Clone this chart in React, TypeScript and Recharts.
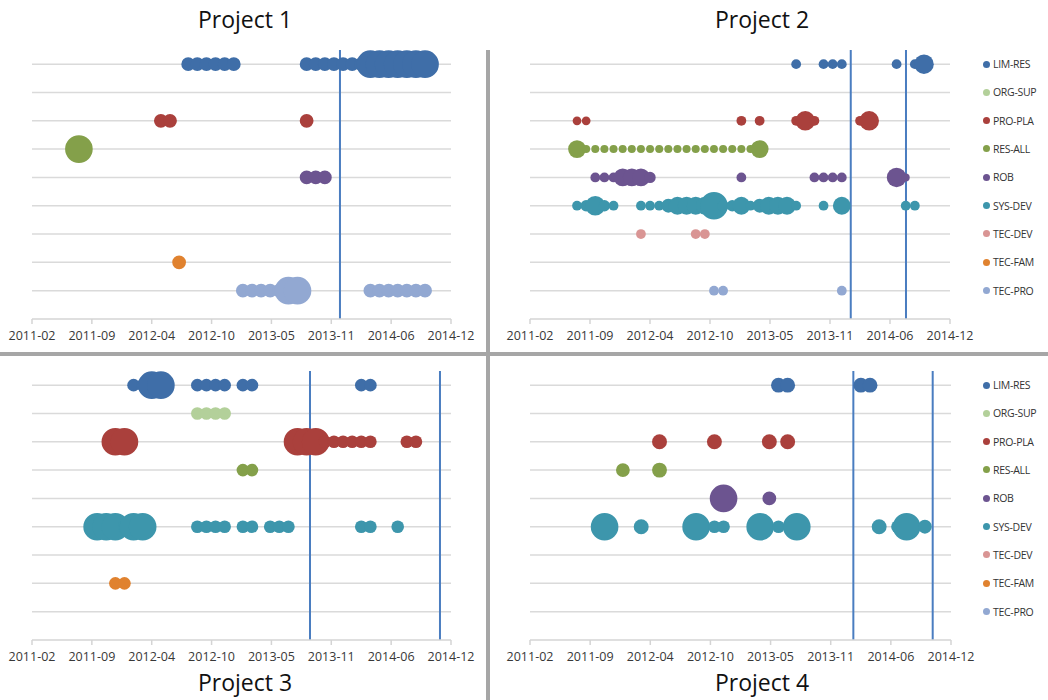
import React from 'react';
import {
  ScatterChart,
  Scatter,
  XAxis,
  YAxis,
  ZAxis,
  CartesianGrid,
  ReferenceLine,
} from 'recharts';

// x values are months counted from 2011-02, z is the bubble weight (area)
type Bubble = [number, number];

const tickLabels = ['2011-02', '2011-09', '2012-04', '2012-10', '2013-05', '2013-11', '2014-06', '2014-12'];
const MONTH_SPAN = 46;
const X0 = -0.15;
const tickValues = tickLabels.map((_, i) => X0 + (i * MONTH_SPAN) / (tickLabels.length - 1));

const seriesNames = ['LIM-RES', 'ORG-SUP', 'PRO-PLA', 'RES-ALL', 'ROB', 'SYS-DEV', 'TEC-DEV', 'TEC-FAM', 'TEC-PRO'];
const seriesColors = ['#3f6ea8', '#b3d09a', '#aa403c', '#84a04a', '#6c5490', '#3d96ac', '#d99594', '#e0822f', '#92a8d2'];

const project1: Record<string, Bubble[]> = {
  'LIM-RES': [
    [17, 3], [18, 3], [19, 3], [20, 3], [21, 3], [22, 3],
    [30, 3], [31, 3], [32, 3], [33, 3], [34, 3], [35, 3], [36, 3],
    [37, 12], [38, 12], [39, 12], [40, 12], [41, 12], [42, 12], [43, 12],
  ],
  'PRO-PLA': [[14, 3], [15, 3], [30, 3]],
  'RES-ALL': [[5, 12]],
  ROB: [[30, 3], [31, 3], [32, 3]],
  'TEC-FAM': [[16, 3]],
  'TEC-PRO': [
    [23, 3], [24, 3], [25, 3], [26, 3], [27, 3], [28, 12], [29, 12],
    [37, 3], [38, 3], [39, 3], [40, 3], [41, 3], [42, 3], [43, 3],
  ],
};

const project2: Record<string, Bubble[]> = {
  'LIM-RES': [[29, 1.5], [32, 1.5], [33, 1.5], [34, 1.5], [40, 1.5], [42, 1.5], [43, 6]],
  'PRO-PLA': [[5, 1.2], [6, 1.2], [23, 1.5], [25, 1.5], [29, 1.5], [30, 6], [31, 1.5], [36, 1.5], [37, 6]],
  'RES-ALL': [
    [5, 5], [6, 1], [7, 1], [8, 1], [9, 1], [10, 1], [11, 1], [12, 1], [13, 1], [14, 1], [15, 1],
    [16, 1], [17, 1], [18, 1], [19, 1], [20, 1], [21, 1], [22, 1], [23, 1], [24, 1], [25, 5],
  ],
  ROB: [
    [7, 1.5], [8, 1.5], [9, 1.5], [10, 5], [11, 5], [12, 5], [13, 2], [23, 1.5],
    [31, 1.5], [32, 1.5], [33, 1.5], [34, 1.5], [40, 6], [41, 1],
  ],
  'SYS-DEV': [
    [5, 1.5], [6, 2], [7, 6], [8, 2], [9, 1.5], [12, 1.5], [13, 1.5], [14, 1.5], [15, 3],
    [16, 5], [17, 5], [18, 5], [19, 5], [20, 12], [21, 2], [22, 2], [23, 5], [24, 1.5],
    [25, 3], [26, 5], [27, 5], [28, 5], [29, 1.5], [32, 1.5], [34, 5], [41, 1.5], [42, 1.5],
  ],
  'TEC-DEV': [[12, 1.5], [18, 1.5], [19, 1.5]],
  'TEC-PRO': [[20, 1.5], [21, 1.5], [34, 1.5]],
};

const project3: Record<string, Bubble[]> = {
  'LIM-RES': [
    [11, 2.5], [12, 2.5], [13, 12], [14, 12], [18, 2.5], [19, 2.5], [20, 2.5], [21, 2.5],
    [23, 2.5], [24, 2.5], [36, 2.5], [37, 2.5],
  ],
  'ORG-SUP': [[18, 2.5], [19, 2.5], [20, 2.5], [21, 2.5]],
  'PRO-PLA': [
    [9, 12], [10, 12], [29, 12], [30, 12], [31, 12], [32, 2.5], [33, 2.5], [34, 2.5],
    [35, 2.5], [36, 2.5], [37, 2.5], [41, 2.5], [42, 2.5],
  ],
  'RES-ALL': [[23, 2.5], [24, 2.5]],
  'SYS-DEV': [
    [7, 12], [8, 12], [9, 12], [10, 2.5], [11, 12], [12, 12], [18, 2.5], [19, 2.5], [20, 2.5],
    [21, 2.5], [23, 2.5], [24, 2.5], [26, 2.5], [27, 2.5], [28, 2.5], [36, 2.5], [37, 2.5], [40, 2.5],
  ],
  'TEC-FAM': [[9, 2.5], [10, 2.5]],
};

const project4: Record<string, Bubble[]> = {
  'LIM-RES': [[27, 3.5], [28, 3.5], [36, 3.5], [37, 3.5]],
  'PRO-PLA': [[14, 3.5], [20, 3.5], [26, 3.5], [28, 3.5]],
  'RES-ALL': [[10, 3], [14, 3.5]],
  ROB: [[21, 12], [26, 3]],
  'SYS-DEV': [
    [8, 12], [12, 3.5], [18, 12], [20, 2.5], [21, 2.5], [25, 12], [27, 2.5], [29, 12],
    [38, 3.5], [40, 2.5], [41, 12], [43, 3],
  ],
};

// milestone markers, in the same month units
const project1Lines = [33.66];
const project2Lines = [34.98, 41.03];
const project3Lines = [30.37, 44.64];
const project4Lines = [35.18, 43.85];

const rowValues = seriesNames.map((_, i) => i + 1);
const FONT = "'Open Sans', sans-serif";
const ROW_GAP = 28.33;

const fmtTick = (v: number) => tickLabels[Math.round(((v - X0) * (tickLabels.length - 1)) / MONTH_SPAN)] ?? '';

interface PanelProps {
  data: Record<string, Bubble[]>;
  lines: number[];
  left: number;
  top: number;
  width: number;
  marginLeft: number;
  marginRight: number;
}

function Panel({ data, lines, left, top, width, marginLeft, marginRight }: PanelProps) {
  return (
    <div style={{ position: 'absolute', left, top }}>
      <ScatterChart
        width={width}
        height={352}
        margin={{ top: 50, right: marginRight, bottom: 0, left: marginLeft }}
      >
        <CartesianGrid vertical={false} horizontalValues={rowValues} stroke="#dadada" strokeWidth={1.5} />
        <XAxis
          type="number"
          dataKey="x"
          domain={[X0, X0 + MONTH_SPAN]}
          ticks={tickValues}
          interval={0}
          tickFormatter={fmtTick}
          height={33}
          tickSize={5}
          tickMargin={7}
          stroke="#d4d4d4"
          strokeWidth={1.5}
          tick={{ fill: '#383838', fontSize: 12.5, fontFamily: FONT }}
        />
        <YAxis type="number" dataKey="y" domain={[0, 9.5]} hide />
        <ZAxis type="number" dataKey="z" domain={[0, 12]} range={[0, 600]} />
        {seriesNames.map((name, i) => (
          <Scatter
            key={name}
            name={name}
            data={(data[name] ?? []).map(([x, z]) => ({ x, y: seriesNames.length - i, z }))}
            fill={seriesColors[i]}
            isAnimationActive={false}
          />
        ))}
        {lines.map((x) => (
          <ReferenceLine key={x} x={x} stroke="#4a7dc0" strokeWidth={2} />
        ))}
      </ScatterChart>
    </div>
  );
}

function SeriesLegend({ left, top }: { left: number; top: number }) {
  return (
    <div style={{ position: 'absolute', left, top, fontFamily: FONT, fontSize: 10.5, color: '#333' }}>
      {seriesNames.map((name, i) => (
        <div
          key={name}
          style={{
            position: 'absolute',
            top: i * ROW_GAP - 8,
            height: 16,
            display: 'flex',
            alignItems: 'center',
            whiteSpace: 'nowrap',
            letterSpacing: -0.3,
          }}
        >
          <span
            style={{
              display: 'inline-block',
              width: 7,
              height: 7,
              borderRadius: '50%',
              background: seriesColors[i],
              marginRight: 3,
            }}
          />
          {name}
        </div>
      ))}
    </div>
  );
}

function Title({ text, center, top }: { text: string; center: number; top: number }) {
  return (
    <div
      style={{
        position: 'absolute',
        left: center - 100,
        top,
        width: 200,
        textAlign: 'center',
        fontFamily: FONT,
        fontSize: 23,
        lineHeight: '23px',
        color: '#111',
      }}
    >
      {text}
    </div>
  );
}

export default function App() {
  return (
    <div style={{ position: 'absolute', left: 0, top: 0, width: 1048, height: 700, background: '#fff', overflow: 'hidden' }}>
      <Panel data={project1} lines={project1Lines} left={0} top={0} width={487} marginLeft={32} marginRight={36} />
      <Panel data={project2} lines={project2Lines} left={490} top={0} width={490} marginLeft={40} marginRight={30} />
      <Panel data={project3} lines={project3Lines} left={0} top={321} width={487} marginLeft={32} marginRight={36} />
      <Panel data={project4} lines={project4Lines} left={490} top={321} width={490} marginLeft={40} marginRight={29} />

      <SeriesLegend left={983} top={64} />
      <SeriesLegend left={983} top={385} />

      <Title text="Project 1" center={245} top={8} />
      <Title text="Project 2" center={762} top={8} />
      <Title text="Project 3" center={245} top={671} />
      <Title text="Project 4" center={762} top={671} />

      {/* panel dividers */}
      <div style={{ position: 'absolute', left: 486, top: 50, width: 4, height: 650, background: '#a6a6a6' }} />
      <div style={{ position: 'absolute', left: 0, top: 352, width: 1048, height: 4, background: '#a6a6a6' }} />
    </div>
  );
}
